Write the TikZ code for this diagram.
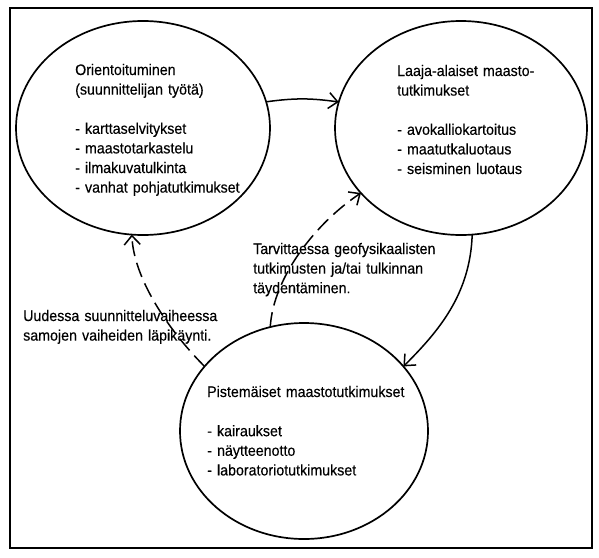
\documentclass[tikz,border=0pt]{standalone}
\usepackage{fontspec}
\setmainfont{Liberation Sans}[FakeStretch=0.93,FakeBold=0.3]
\usetikzlibrary{shapes.geometric,arrows.meta}
\begin{document}
\begin{tikzpicture}[x=1pt,y=-1pt,
  bubble/.style={ellipse,draw,line width=1.7pt,inner sep=0pt,outer sep=0pt},
  txt/.style={anchor=base west,inner sep=0pt,text width=250pt,align=left,font=\fontsize{15.3}{19.6}\selectfont},
  conn/.style={line width=1.5pt,-{Straight Barb[length=9pt,width=16pt]}},
  dashconn/.style={conn,dash pattern=on 15pt off 7pt}]
\useasboundingbox (0,0) rectangle (599,557);
\draw[line width=2.2pt] (10,8) rectangle (592,548);
\node[bubble,minimum width=254pt,minimum height=214pt] (e1) at (143,128) {};
\node[bubble,minimum width=252pt,minimum height=214pt] (e2) at (461,128) {};
\node[bubble,minimum width=248pt,minimum height=216pt] (e3) at (304,431) {};
\node[txt] (t1) at (75,75) {Orientoituminen\\(suunnittelijan työtä)\\[19.6pt]- karttaselvitykset\\- maastotarkastelu\\- ilmakuvatulkinta\\- vanhat pohjatutkimukset};
\node[txt] (t2) at (397,76) {Laaja-alaiset maasto-\\tutkimukset\\[19.6pt]- avokalliokartoitus\\- maatutkaluotaus\\- seisminen luotaus};
\node[txt] (t3) at (207,397) {Pistemäiset maastotutkimukset\\[19.6pt]- kairaukset\\- näytteenotto\\- laboratoriotutkimukset};
\node[txt] (t4) at (253,254) {Tarvittaessa geofysikaalisten\\tutkimusten ja/tai tulkinnan\\täydentäminen.};
\node[txt] (t5) at (23,321) {Uudessa suunnitteluvaiheessa\\samojen vaiheiden läpikäynti.};
\draw[conn] (e1.12) to[bend left=8] (e2.168);
\draw[conn] (e2.276) .. controls +(-2,60) and +(35,-35) .. (e3.33);
\draw[dashconn] (e3.108) .. controls +(3,-50) and +(-45,30) .. (e2.213);
\draw[dashconn] (e3.147) .. controls +(-35,-35) and +(2,45) .. (e1.264);
\end{tikzpicture}
\end{document}
